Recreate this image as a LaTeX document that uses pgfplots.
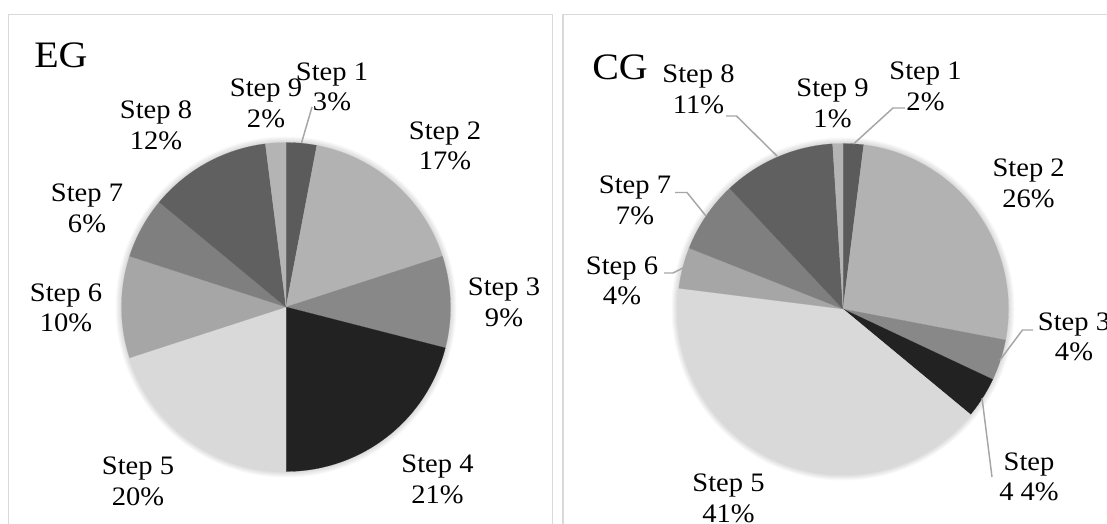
\documentclass[border=0pt]{standalone}
\usepackage{fontspec}
\setmainfont{Liberation Serif}[FakeStretch=1.07]
\usepackage{pgfplots}
\pgfplotsset{compat=1.18}
\definecolor{sA}{HTML}{5B5B5B}
\definecolor{sB}{HTML}{B2B2B2}
\definecolor{sC}{HTML}{888888}
\definecolor{sD}{HTML}{222222}
\definecolor{sE}{HTML}{D9D9D9}
\definecolor{sF}{HTML}{A6A6A6}
\definecolor{sG}{HTML}{7F7F7F}
\definecolor{sH}{HTML}{606060}
\definecolor{sI}{HTML}{B4B4B4}
\definecolor{frame}{HTML}{D9D9D9}
\definecolor{lead}{HTML}{A6A6A6}
% \slice{cumulative start %}{value %}{colour}
\newcommand{\slice}[3]{%
  \addplot[draw=#3, line width=0.1pt, fill=#3, domain=90-3.6*#1-3.6*#2:90-3.6*#1, samples=90, variable=\t]
    ({cos(\t)},{sin(\t)}) -- (axis cs:0,0) -- cycle;}
\tikzset{lab/.style={font=\fontsize{20}{23}\selectfont, align=center, inner sep=0pt, text=black}}
\begin{document}
\begin{tikzpicture}
\useasboundingbox (0,0) rectangle (830.25pt,-393pt);
\clip (0,0) rectangle (830.25pt,-393pt);
\begin{scope}[x=0.75pt,y=-0.75pt]
  \fill[white] (0,0) rectangle (1107,524);
  \draw[line width=1.1pt, frame] (8.5,14.5) rectangle (552.5,580);
  \draw[line width=1.1pt, frame] (563,14.5) rectangle (1140,580);
  \foreach \k in {1,...,6} {
    \fill[black, opacity=0.022] (286,307) circle[radius=164.5+\k];
    \fill[black, opacity=0.022] (843,309) circle[radius=165.5+\k];
  }
\end{scope}
% EG
\begin{axis}[at={(214.5pt,-230.25pt)}, anchor=center, hide axis, x=123.375pt, y=123.375pt,
  xmin=-1, xmax=1, ymin=-1, ymax=1, clip=false]
  \slice{0}{3}{sA}
  \slice{3}{17}{sB}
  \slice{20}{9}{sC}
  \slice{29}{21}{sD}
  \slice{50}{20}{sE}
  \slice{70}{10}{sF}
  \slice{80}{6}{sG}
  \slice{86}{12}{sH}
  \slice{98}{2}{sI}
\end{axis}
% CG
\begin{axis}[at={(632.25pt,-231.75pt)}, anchor=center, hide axis, x=124.125pt, y=124.125pt,
  xmin=-1, xmax=1, ymin=-1, ymax=1, clip=false]
  \slice{0}{2}{sA}
  \slice{2}{26}{sB}
  \slice{28}{4}{sC}
  \slice{32}{4}{sD}
  \slice{36}{41}{sE}
  \slice{77}{4}{sF}
  \slice{81}{7}{sG}
  \slice{88}{11}{sH}
  \slice{99}{1}{sI}
\end{axis}
\begin{scope}[x=0.75pt,y=-0.75pt]
  \node[anchor=base west, inner sep=0pt, font=\fontsize{28}{30}\selectfont] at (34,68) {EG};
  \node[anchor=base west, inner sep=0pt, font=\fontsize{28}{30}\selectfont] at (592,80) {CG};
  % EG labels
  \node[lab] at (332,87) {Step 1\\3\%};
  \node[lab] at (445,146) {Step 2\\17\%};
  \node[lab] at (504,302.5) {Step 3\\9\%};
  \node[lab] at (437.5,479.5) {Step 4\\21\%};
  \node[lab] at (138,481.5) {Step 5\\20\%};
  \node[lab] at (66,308) {Step 6\\10\%};
  \node[lab] at (87,208.5) {Step 7\\6\%};
  \node[lab] at (156,125) {Step 8\\12\%};
  \node[lab] at (266,103.5) {Step 9\\2\%};
  \draw[lead, line width=1.1pt] (301.5,143) -- (312,107);
  % CG labels
  \node[lab] at (925.5,86.5) {Step 1\\2\%};
  \node[lab] at (1028.6,183.5) {Step 2\\26\%};
  \node[lab] at (1074,337) {Step 3\\4\%};
  \node[lab] at (1029,477) {Step\\4 4\%};
  \node[lab] at (728.5,498.5) {Step 5\\41\%};
  \node[lab] at (622,281) {Step 6\\4\%};
  \node[lab] at (635,200.5) {Step 7\\7\%};
  \node[lab] at (698.5,89) {Step 8\\11\%};
  \node[lab] at (832.5,103.5) {Step 9\\1\%};
  \draw[lead, line width=1.1pt] (853.5,144) -- (893,108) -- (905,108);
  \draw[lead, line width=1.1pt] (777,156) -- (736.5,116) -- (726,116);
  \draw[lead, line width=1.1pt] (706,216) -- (687,192.5) -- (675,192.5);
  \draw[lead, line width=1.1pt] (683,268) -- (673,273) -- (664,273);
  \draw[lead, line width=1.1pt] (1000,360) -- (1022.5,330) -- (1033,330);
  \draw[lead, line width=1.1pt] (982,398) -- (992,477);
\end{scope}
\end{tikzpicture}
\end{document}
